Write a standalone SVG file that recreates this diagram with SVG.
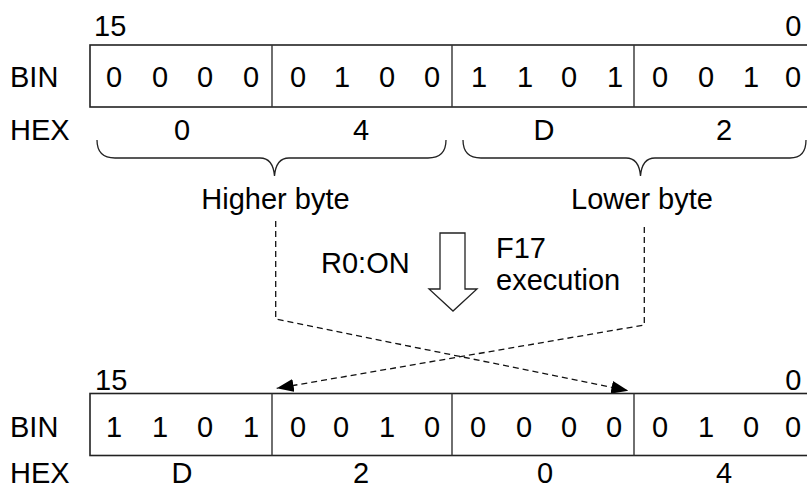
<svg xmlns="http://www.w3.org/2000/svg" width="807" height="490" viewBox="0 0 807 490">
<style>
text{font-family:"Liberation Sans",Arial,sans-serif;font-size:29px;fill:#000}
.m{text-anchor:middle}
.e{text-anchor:end}
.box{fill:#fff;stroke:#222;stroke-width:1.6}
.div{stroke:#333;stroke-width:1.4}
.br{fill:none;stroke:#222;stroke-width:1.3}
.dash{fill:none;stroke:#111;stroke-width:1.3;stroke-dasharray:6 4}
</style>
<defs>
<marker id="ah" viewBox="0 0 17 13" refX="17" refY="6.5" markerWidth="17" markerHeight="13" markerUnits="userSpaceOnUse" orient="auto">
<path d="M0,0 L17,6.5 L0,13 z" fill="#000"/>
</marker>
</defs>

<g id="top-register">
<text x="94" y="36">15</text>
<text class="e" x="801.5" y="36">0</text>
<text x="10" y="86.5">BIN</text>
<rect class="box" x="90" y="45" width="726" height="62"/>
<line class="div" x1="272" y1="45" x2="272" y2="107"/>
<line class="div" x1="452" y1="45" x2="452" y2="107"/>
<line class="div" x1="634" y1="45" x2="634" y2="107"/>
<g class="m">
<text x="114" y="86.5">0</text><text x="160" y="86.5">0</text><text x="205" y="86.5">0</text><text x="251" y="86.5">0</text>
<text x="298" y="86.5">0</text><text x="342" y="86.5">1</text><text x="387" y="86.5">0</text><text x="432" y="86.5">0</text>
<text x="479" y="86.5">1</text><text x="525" y="86.5">1</text><text x="569" y="86.5">0</text><text x="615" y="86.5">1</text>
<text x="660" y="86.5">0</text><text x="706" y="86.5">0</text><text x="751" y="86.5">1</text><text x="793" y="86.5">0</text>
</g>
<text x="10" y="140">HEX</text>
<g class="m">
<text x="182" y="140">0</text><text x="361" y="140">4</text><text x="544" y="140">D</text><text x="724" y="140">2</text>
</g>
</g>

<g id="braces">
<path class="br" d="M97,140 Q97,158 115,158 L260,158 Q273,158 274.5,176 Q276,158 289,158 L428,158 Q446,158 446,140"/>
<path class="br" d="M463,140 Q463,158 481,158 L626,158 Q639,158 640.5,176 Q642,158 655,158 L790,158 Q806,158 806,140"/>
<text class="m" x="275.5" y="209">Higher byte</text>
<text class="m" x="642" y="209">Lower byte</text>
</g>

<g id="execution-arrow">
<polygon points="440,233 465,233 465,289 477,289 453,311 429,289 440,289" fill="#fff" stroke="#222" stroke-width="1.3"/>
<text x="321" y="273">R0:ON</text>
<text x="496" y="257.5">F17</text>
<text x="496" y="290">execution</text>
</g>

<g id="connectors">
<path class="dash" d="M275.7,221 V319 L628.3,390.7" marker-end="url(#ah)"/>
<path class="dash" d="M644.3,227 V325 L276.7,388.3" marker-end="url(#ah)"/>
</g>

<g id="bottom-register">
<text x="95" y="390">15</text>
<text class="e" x="801.5" y="390">0</text>
<text x="10" y="437">BIN</text>
<rect class="box" x="90" y="393.5" width="726" height="62"/>
<line class="div" x1="272" y1="393.5" x2="272" y2="455.5"/>
<line class="div" x1="452" y1="393.5" x2="452" y2="455.5"/>
<line class="div" x1="634" y1="393.5" x2="634" y2="455.5"/>
<g class="m">
<text x="114" y="437">1</text><text x="160" y="437">1</text><text x="205" y="437">0</text><text x="251" y="437">1</text>
<text x="298" y="437">0</text><text x="341" y="437">0</text><text x="387" y="437">1</text><text x="432" y="437">0</text>
<text x="478" y="437">0</text><text x="524" y="437">0</text><text x="569" y="437">0</text><text x="614" y="437">0</text>
<text x="660" y="437">0</text><text x="706" y="437">1</text><text x="751" y="437">0</text><text x="793" y="437">0</text>
</g>
<text x="10" y="483">HEX</text>
<g class="m">
<text x="182" y="483">D</text><text x="361" y="483">2</text><text x="545" y="483">0</text><text x="724" y="483">4</text>
</g>
</g>
</svg>
